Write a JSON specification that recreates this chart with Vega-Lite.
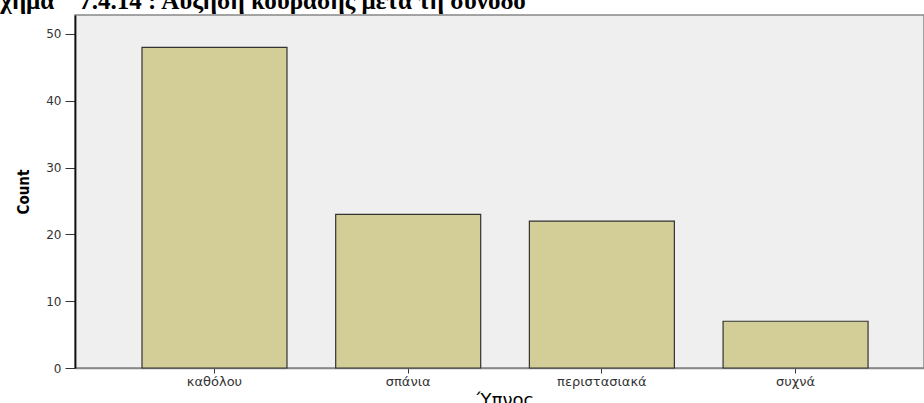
{
  "$schema": "https://vega.github.io/schema/vega-lite/v6.json",
  "autosize": "none",
  "width": 849,
  "height": 353,
  "padding": {"left": 75, "top": 15, "right": 0, "bottom": 35},
  "background": "#ffffff",
  "title": {
    "text": "Σχήμα\u00a0\u00a0\u00a0\u00a07.4.14 : Αύξηση κούρασης μετά τη σύνοδο",
    "font": "Liberation Serif",
    "fontSize": 25,
    "fontWeight": "bold",
    "color": "#000000",
    "anchor": "start",
    "frame": "group",
    "baseline": "alphabetic",
    "offset": 4,
    "dx": -91,
    "dy": 23
  },
  "config": {
    "view": {"fill": "#efefef", "stroke": "#888888", "strokeWidth": 1.5}
  },
  "data": {
    "values": [
      {"Ypnos": "καθόλου", "Count": 48},
      {"Ypnos": "σπάνια", "Count": 23},
      {"Ypnos": "περιστασιακά", "Count": 22},
      {"Ypnos": "συχνά", "Count": 7}
    ]
  },
  "mark": {"type": "bar", "fill": "#d3ce97", "stroke": "#333333", "strokeWidth": 1.2},
  "encoding": {
    "x": {
      "field": "Ypnos",
      "type": "nominal",
      "sort": null,
      "scale": {"paddingInner": 0.2514, "paddingOuter": 0.3173, "align": 0.545},
      "axis": {
        "title": "Ύπνος",
        "titleFont": "DejaVu Sans",
        "titleFontSize": 18,
        "titleFontWeight": "normal",
        "titleColor": "#000000",
        "titlePadding": 3,
        "titleX": 430,
        "labelAngle": 0,
        "labelFont": "DejaVu Sans",
        "labelFontSize": 13,
        "labelColor": "#333333",
        "labelPadding": 2,
        "tickSize": 5,
        "tickColor": "#333333",
        "domainColor": "#888888",
        "domainWidth": 1.5
      }
    },
    "y": {
      "field": "Count",
      "type": "quantitative",
      "scale": {"domain": [0, 52.84], "nice": false, "zero": true},
      "axis": {
        "title": "Count",
        "titleFont": "'Liberation Sans Narrow', 'DejaVu Sans Condensed', 'Roboto Condensed', Roboto",
        "titleFontSize": 15,
        "titleFontWeight": "bold",
        "titleColor": "#000000",
        "titlePadding": 14,
        "values": [0, 10, 20, 30, 40, 50],
        "grid": false,
        "labelFont": "DejaVu Sans",
        "labelFontSize": 12,
        "labelColor": "#333333",
        "labelPadding": 4,
        "tickSize": 10,
        "tickColor": "#333333",
        "domainColor": "#111111",
        "domainWidth": 1.8
      }
    }
  }
}
